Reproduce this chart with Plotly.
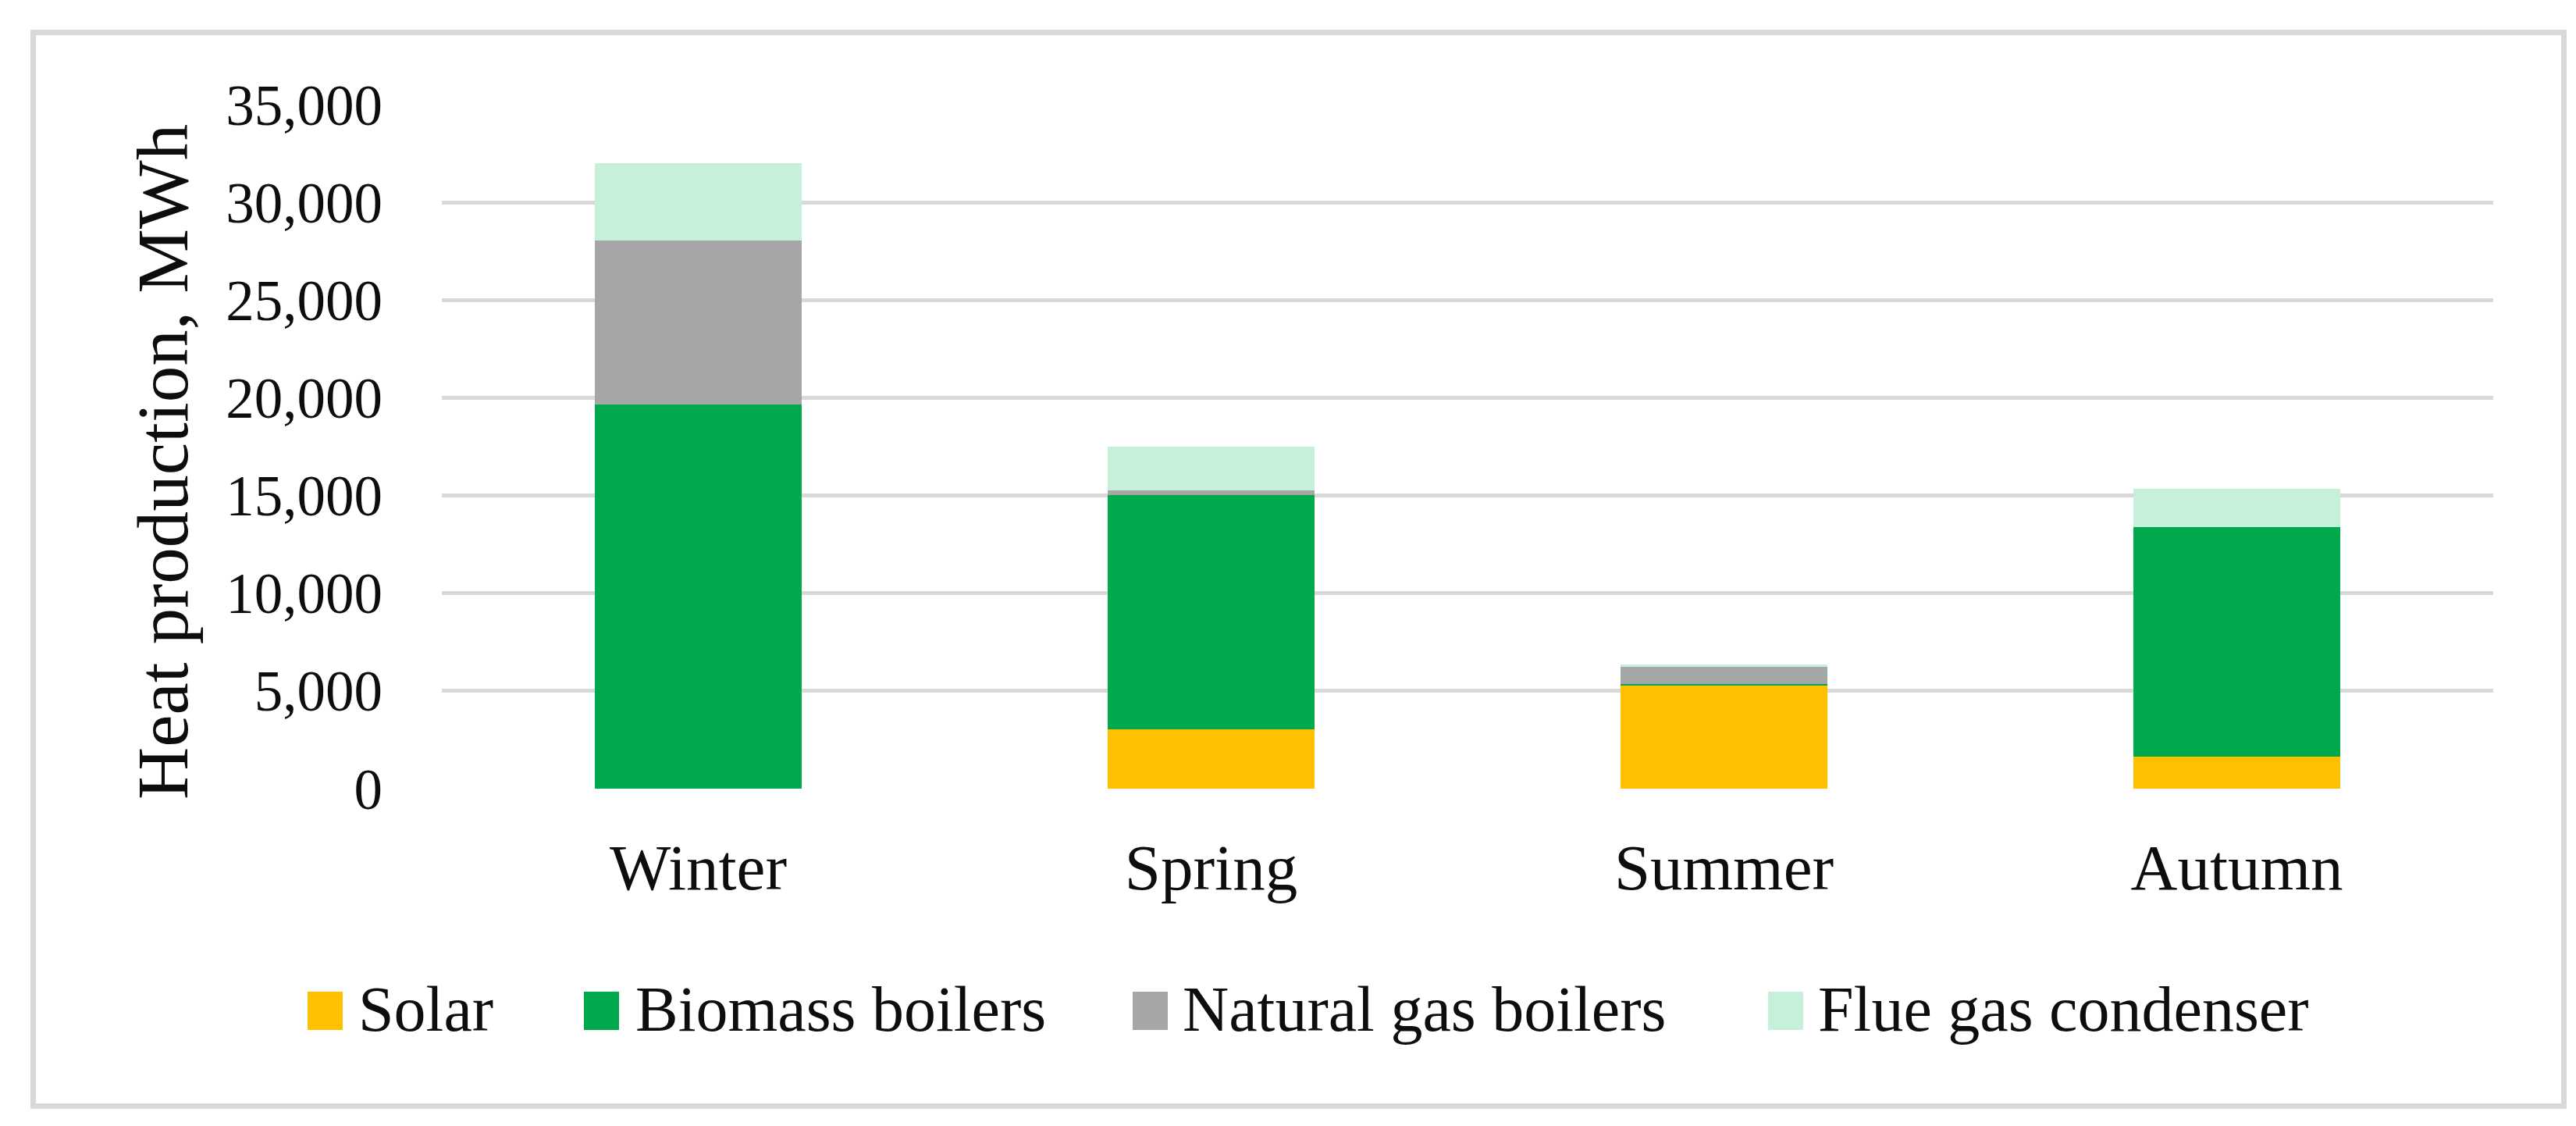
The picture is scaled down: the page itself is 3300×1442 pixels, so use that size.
import plotly.graph_objects as go

# ---- data ----
seasons = ["Winter", "Spring", "Summer", "Autumn"]
series_names = ["Solar", "Biomass boilers", "Natural gas boilers", "Flue gas condenser"]
solar = [0, 3050, 5270, 1640]
biomass = [19660, 11970, 100, 11760]
natural_gas = [8380, 250, 870, 0]
flue_gas = [3960, 2220, 120, 1930]
y_ticks = [0, 5000, 10000, 15000, 20000, 25000, 30000, 35000]

colors = ["#FFC000", "#00A94B", "#A6A6A6", "#C6F0DA"]
values = [solar, biomass, natural_gas, flue_gas]

W, H = 3300, 1442
FONT = "Liberation Serif"
TXT = "#0d0d0d"

def px(x):
    return x / W

def py(y):
    return 1 - y / H

fig = go.Figure()
for name, vals, col in zip(series_names, values, colors):
    fig.add_trace(go.Bar(x=seasons, y=vals, name=name,
                         marker=dict(color=col, line=dict(width=0)),
                         showlegend=False))

# custom legend (large square swatches like the reference)
legend_sw = [386, 740, 1443, 2257]
legend_tx = [449, 804, 1505, 2319]
shapes = []
annotations = []
for name, col, sx, tx in zip(series_names, colors, legend_sw, legend_tx):
    shapes.append(dict(type="rect", xref="paper", yref="paper",
                       x0=px(sx), x1=px(sx + 45), y0=py(1311), y1=py(1262),
                       fillcolor=col, line=dict(width=0)))
    annotations.append(dict(text=name, xref="paper", yref="paper",
                            x=px(tx), y=py(1284), xanchor="left", yanchor="middle",
                            showarrow=False, font=dict(family=FONT, size=82, color=TXT)))

# outer frame
shapes.append(dict(type="rect", xref="paper", yref="paper",
                   x0=px(34.5), x1=px(3276.5), y0=py(1408.5), y1=py(33.5),
                   line=dict(color="#D9D9D9", width=7), fillcolor="rgba(0,0,0,0)",
                   layer="below"))

# y-axis title
annotations.append(dict(text="Heat production, MWh", xref="paper", yref="paper",
                        x=px(200), y=py(584), xanchor="center", yanchor="middle",
                        textangle=-90, showarrow=False,
                        font=dict(family=FONT, size=93, color=TXT)))

fig.update_layout(
    width=W, height=H,
    margin=dict(l=0, r=0, t=0, b=0),
    paper_bgcolor="white", plot_bgcolor="white",
    barmode="stack", bargap=0.598,
    showlegend=False,
    shapes=shapes, annotations=annotations,
    xaxis=dict(domain=[px(558), px(3186)], showgrid=False, showline=False,
               ticks="", tickfont=dict(family=FONT, size=83, color=TXT),
               ticklabelstandoff=45, automargin=False),
    yaxis=dict(domain=[py(1002), py(126)], range=[0, 35000],
               tickvals=y_ticks, tickformat=",d",
               showgrid=True, gridcolor="#D9D9D9", gridwidth=5,
               zeroline=False, showline=False, ticks="",
               tickfont=dict(family=FONT, size=73, color=TXT),
               ticklabelstandoff=75, automargin=False),
)

fig.write_html("out.html")
